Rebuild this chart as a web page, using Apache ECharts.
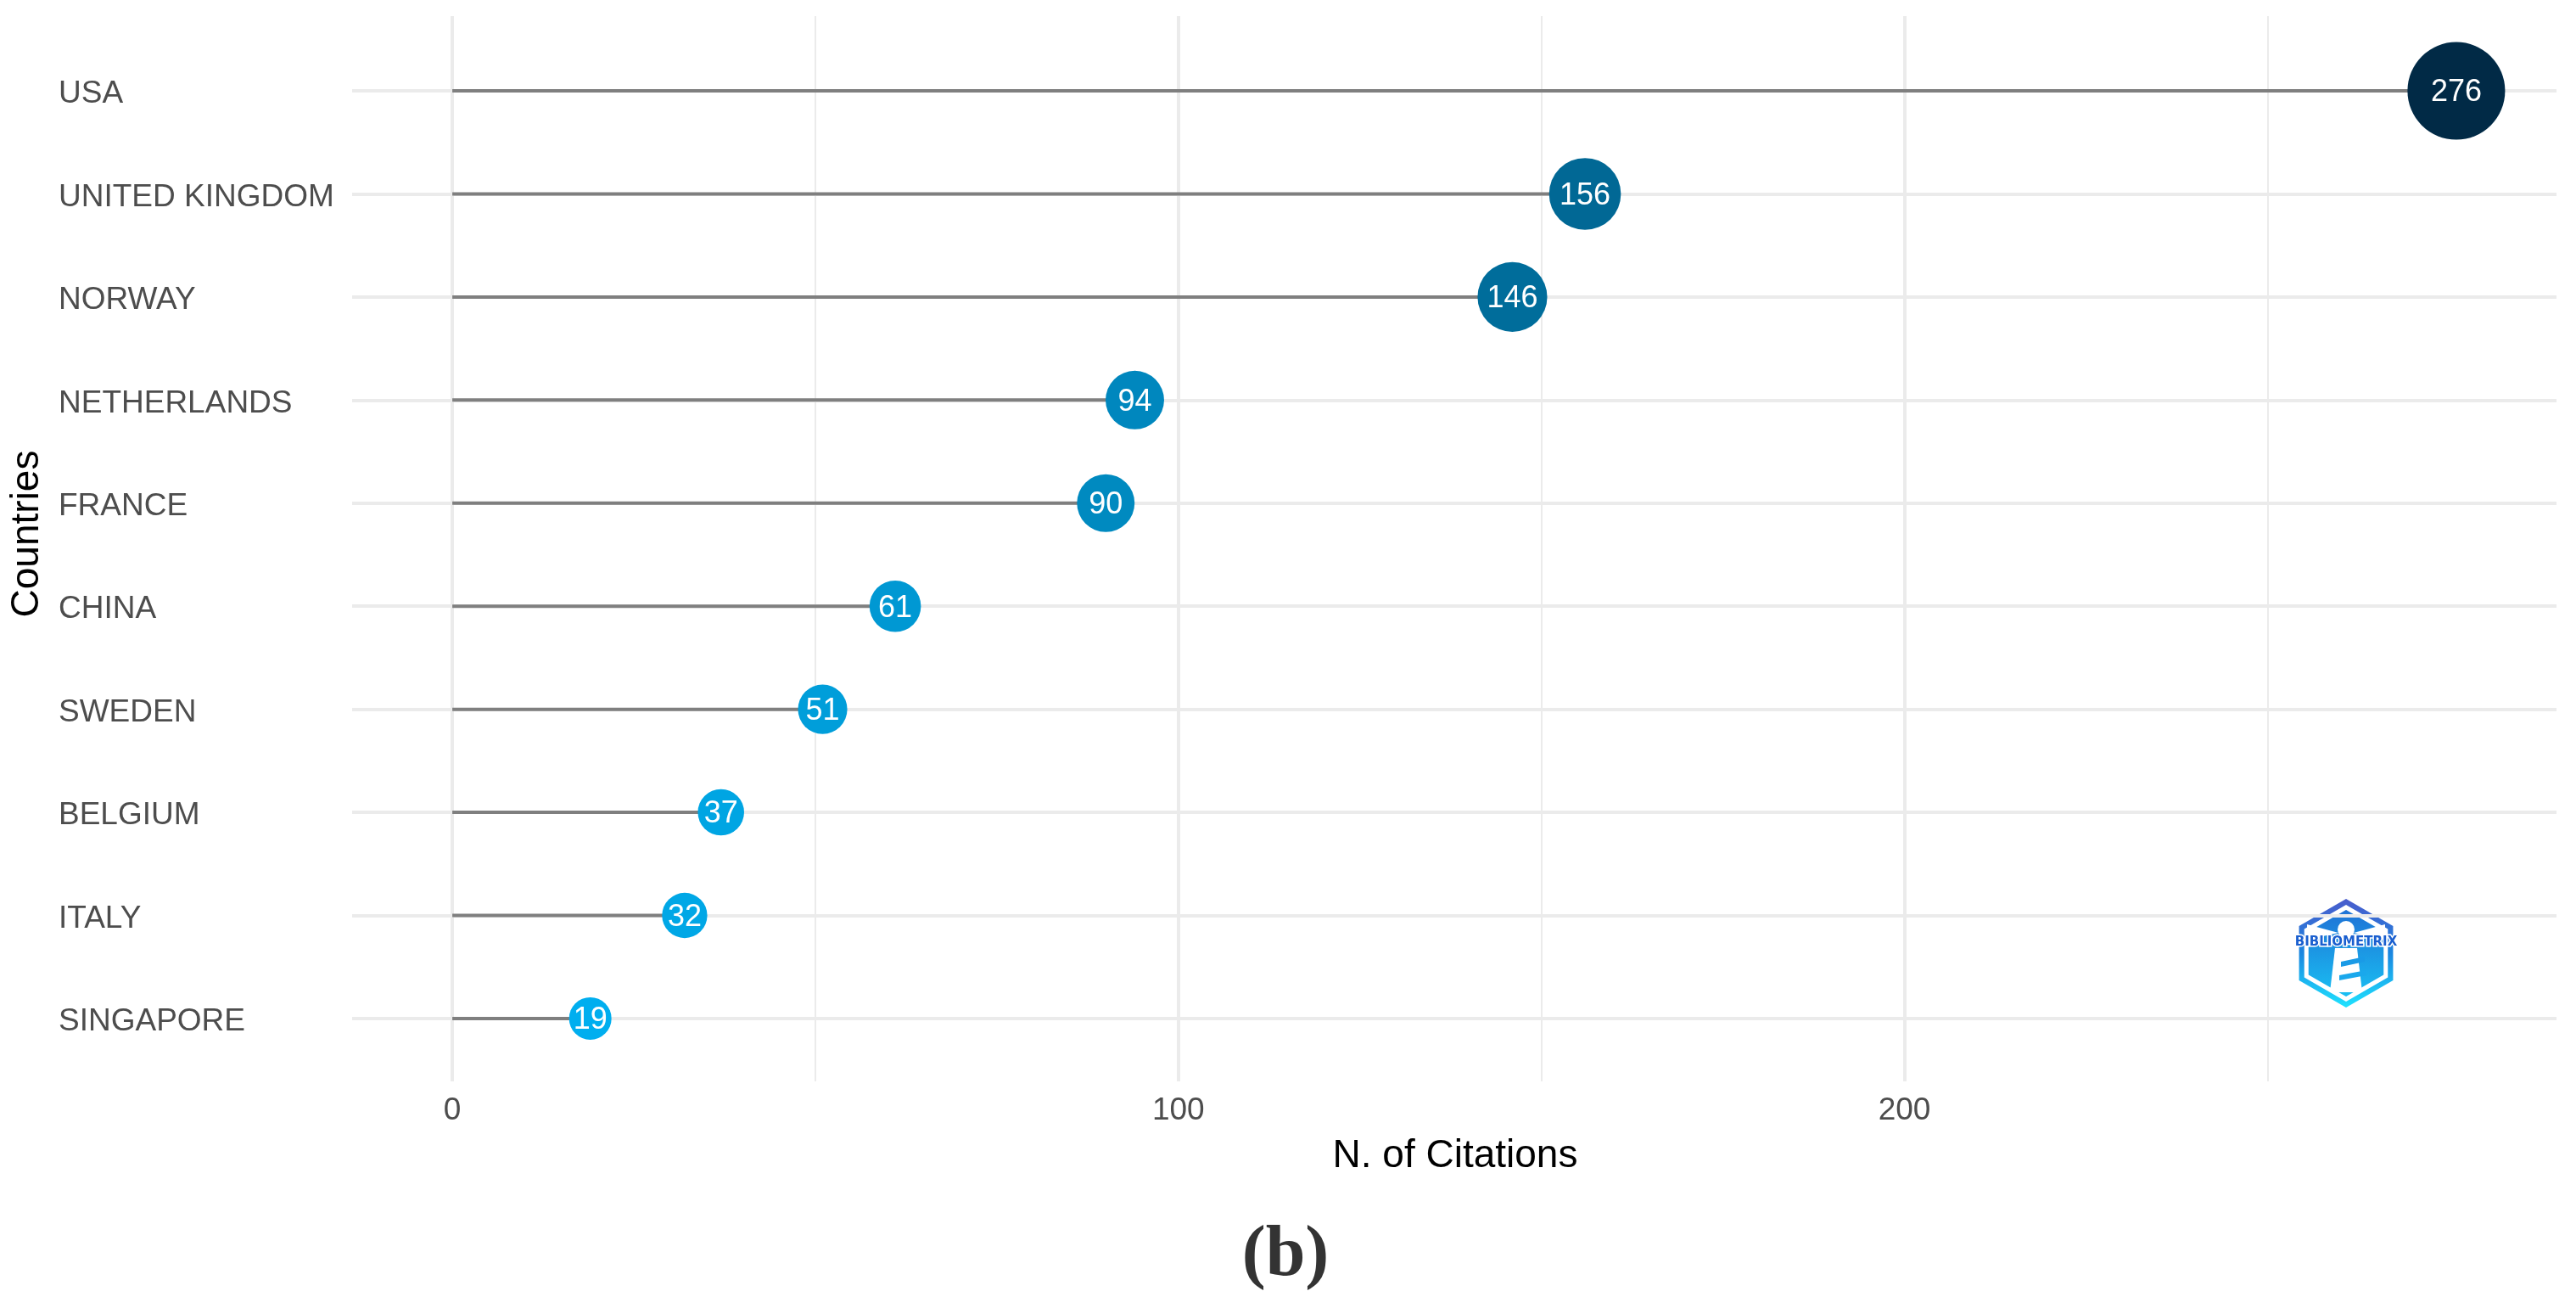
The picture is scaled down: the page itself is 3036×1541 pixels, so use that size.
<!DOCTYPE html>
<html>
<head>
<meta charset="utf-8">
<script src="https://cdn.jsdelivr.net/npm/echarts@6/dist/echarts.min.js"></script>
<style>
html,body{margin:0;padding:0;background:#fff;}
#chart{width:3036px;height:1541px;}
</style>
</head>
<body>
<div id="chart"></div>
<script>
// ---- data ----
const countries = ["USA","UNITED KINGDOM","NORWAY","NETHERLANDS","FRANCE","CHINA","SWEDEN","BELGIUM","ITALY","SINGAPORE"];
const citations = [276,156,146,94,90,61,51,37,32,19];
const xTickLabels = [0,100,200];
const xMinorTicks = [50,150,250];

const rows = countries.map((c,i)=>i+1);
const points = citations.map((v,i)=>[v, i+1]);
const vMin = Math.min(...citations), vMax = Math.max(...citations);

const FONT = '"Liberation Sans", Arial, Helvetica, sans-serif';

function hex(cx, cy, r){
  const pts=[];
  for(let k=0;k<6;k++){
    const a = (-90 + 60*k) * Math.PI/180;
    pts.push([cx + r*Math.cos(a), cy + r*Math.sin(a)]);
  }
  return pts;
}
const LX = 2765, LY = 1123;

const chart = echarts.init(document.getElementById('chart'), null, {renderer:'canvas'});
chart.setOption({
  backgroundColor:'#ffffff',
  animation:false,
  grid:{left:415, right:23, top:19, bottom:267, containLabel:false},
  xAxis:[{
    type:'value', min:-13.8, max:289.8,
    axisLine:{show:false},
    axisTick:{show:false, customValues:xTickLabels},
    axisLabel:{customValues:xTickLabels, color:'#4d4d4d', fontSize:37, fontFamily:FONT, margin:16},
    splitLine:{show:true, lineStyle:{color:'#ebebeb', width:4}}
  },{
    type:'value', min:-13.8, max:289.8, position:'bottom',
    axisLine:{show:false},
    axisTick:{show:false, customValues:xMinorTicks},
    axisLabel:{show:false, customValues:xMinorTicks},
    splitLine:{show:true, lineStyle:{color:'#ebebeb', width:2}}
  }],
  yAxis:{
    type:'value', inverse:true, min:0.275, max:10.61,
    axisLine:{show:false},
    axisTick:{show:false, customValues:rows},
    axisLabel:{customValues:rows, align:'left', margin:346, color:'#4d4d4d', fontSize:37, fontFamily:FONT,
      formatter:(v)=>'{c|' + (countries[Math.round(v)-1] || '') + '}',
      rich:{c:{color:'#4d4d4d', fontSize:37, fontFamily:FONT, padding:[8,0,0,0]}}},
    splitLine:{show:true, lineStyle:{color:'#ebebeb', width:4}}
  },
  visualMap:{
    show:false, type:'continuous', seriesIndex:1, dimension:0,
    min:vMin, max:vMax,
    inRange:{color:['#00AEEF','#012A46'], symbolSize:[50,115]}
  },
  series:[{
    type:'custom',
    xAxisIndex:0,
    data:points,
    renderItem:(params, api)=>{
      const s = api.coord([0, api.value(1)]);
      const e = api.coord([api.value(0), api.value(1)]);
      return {type:'line', shape:{x1:s[0], y1:s[1], x2:e[0], y2:e[1]},
        style:{stroke:'#7f7f7f', lineWidth:4}};
    },
    silent:true, z:2
  },{
    type:'scatter',
    xAxisIndex:0,
    data:points,
    symbol:'circle',
    label:{show:true, position:'inside', formatter:(p)=>'{n|' + p.value[0] + '}',
      rich:{n:{color:'#ffffff', fontSize:36, fontFamily:FONT, padding:[5,0,0,0]}}},
    itemStyle:{opacity:1},
    z:3
  }],
  graphic:[
    {type:'text', x:32, y:629, rotation:Math.PI/2,
      style:{text:'Countries', font:'46px '+FONT, fill:'#000', align:'center', verticalAlign:'middle'}},
    {type:'text', x:1715, y:1362,
      style:{text:'N. of Citations', font:'46px '+FONT, fill:'#000', align:'center', verticalAlign:'middle'}},
    {type:'text', x:1515, y:1480,
      style:{text:'(b)', font:'bold 84px "Liberation Serif", "Times New Roman", serif', fill:'#333', align:'center', verticalAlign:'middle'}},
    // logo
    {type:'group', z:10, children:[
      {type:'polygon', shape:{points:hex(LX,LY,64)},
        style:{fill:new echarts.graphic.LinearGradient(0,0,0,1,[{offset:0,color:'#4a5ccc'},{offset:0.5,color:'#1a86e0'},{offset:1,color:'#1fe3ff'}])}},
      {type:'polygon', shape:{points:hex(LX,LY,54)},
        style:{fill:new echarts.graphic.LinearGradient(0,0,0,1,[{offset:0,color:'#1f6ed4'},{offset:1,color:'#19c3f4'}]), stroke:'#ffffff', lineWidth:5}},
      {type:'polygon', shape:{points:[[LX-9,LY-24],[LX-46,LY-34],[LX-46,LY-16]]}, style:{fill:'#ffffff'}},
      {type:'polygon', shape:{points:[[LX+9,LY-24],[LX+46,LY-34],[LX+46,LY-16]]}, style:{fill:'#ffffff'}},
      {type:'polygon', shape:{points:[[LX-13,LY-6],[LX+13,LY-6],[LX+19,LY+46],[LX-19,LY+46]]},
        style:{fill:'#ffffff'}},
      {type:'circle', shape:{cx:LX, cy:LY-28, r:10}, style:{fill:'#ffffff'}},
      {type:'polygon', shape:{points:[[LX-6,LY+10],[LX+22,LY+4],[LX+22,LY+10],[LX-6,LY+16]]}, style:{fill:'#1a9ae6'}},
      {type:'polygon', shape:{points:[[LX-8,LY+26],[LX+24,LY+20],[LX+24,LY+26],[LX-8,LY+32]]}, style:{fill:'#1aa8ec'}},
      {type:'text', x:LX, y:LY-13,
        style:{text:'BIBLIOMETRIX', font:'bold 15px "DejaVu Sans", sans-serif', fill:'#1a5fcf',
          stroke:'#ffffff', lineWidth:3, align:'center', verticalAlign:'middle'}}
    ]}
  ]
});
</script>
</body>
</html>
